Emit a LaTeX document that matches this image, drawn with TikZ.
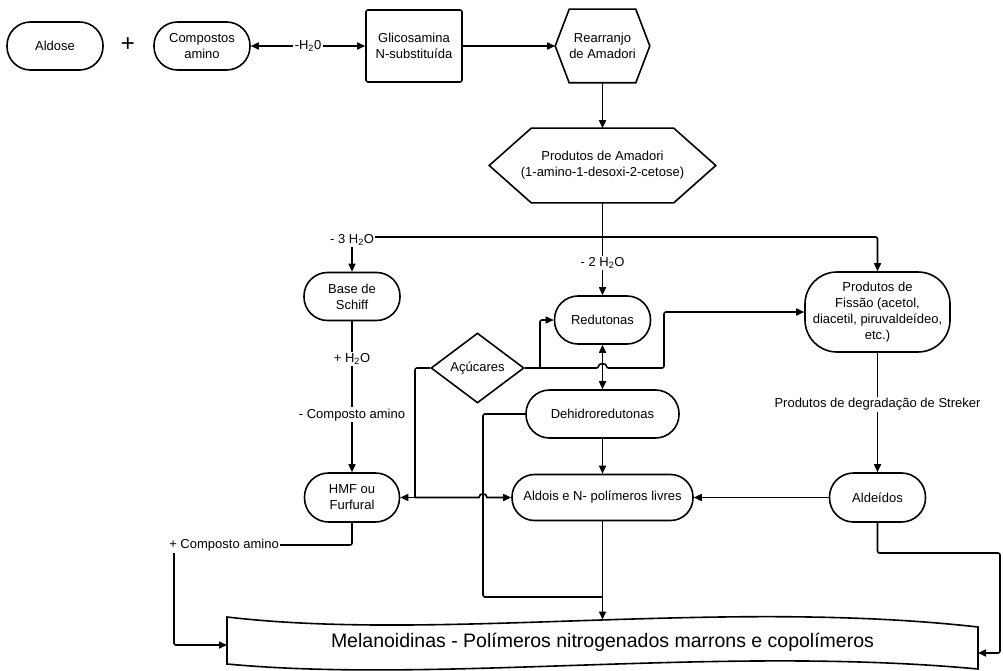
\documentclass[tikz,border=0pt]{standalone}
\usepackage{fontspec}
\setmainfont{Liberation Sans}
\usetikzlibrary{arrows.meta,shapes.geometric}
\begin{document}
\begin{tikzpicture}[x=1pt,y=-1pt,line width=1.6pt,
  >={Triangle[length=8pt,width=7pt]},
  every node/.style={font=\fontsize{13}{16}\selectfont, align=center, inner sep=1pt},
  stad/.style={draw, rounded corners=23.5pt, minimum width=96pt, minimum height=48pt},
  lbl/.style={fill=white, inner sep=1.5pt},
  conn/.style={rounded corners=2pt}
]
\useasboundingbox[fill=white] (0,0) rectangle (1003,671);

% nodes
\node[stad] (aldose) at (55,46) {Aldose};
\node[font=\fontsize{24}{24}\selectfont] (plus) at (128,45) {+};
\node[stad] (comp) at (202,46) {Compostos\\amino};
\node[draw, rounded corners=2pt, minimum width=96pt, minimum height=72pt] (glic) at (414,46) {Glicosamina\\N-substituída};
\node[minimum width=93pt, minimum height=72pt] (rear) at (602.5,46) {Rearranjo\\de Amadori};
\draw (rear.west) -- ([xshift=14pt]rear.north west) -- ([xshift=-14pt]rear.north east) -- (rear.east) -- ([xshift=-14pt]rear.south east) -- ([xshift=14pt]rear.south west) -- cycle;
\node[minimum width=225pt, minimum height=73pt] (pam) at (602.5,165.5) {Produtos de Amadori\\(1-amino-1-desoxi-2-cetose)};
\draw (pam.west) -- ([xshift=42pt]pam.north west) -- ([xshift=-42pt]pam.north east) -- (pam.east) -- ([xshift=-42pt]pam.south east) -- ([xshift=42pt]pam.south west) -- cycle;

\node[stad] (schiff) at (352,296.5) {Base de\\Schiff};
\node[stad] (red) at (602.5,320) {Redutonas};
\node[stad, minimum width=153pt] (dehi) at (602.5,414) {Dehidroredutonas};
\node[draw, diamond, aspect=1.33, minimum width=93pt, minimum height=70pt] (acu) at (477.5,368) {Açúcares};
\node[draw, rounded corners=32pt, minimum width=145pt, minimum height=80pt] (fis) at (877.5,312) {Produtos de\\Fissão (acetol,\\diacetil, piruvaldeídeo,\\etc.)};
\node[stad, minimum width=95pt, minimum height=49pt, rounded corners=24pt] (hmf) at (352,497.5) {HMF ou\\Furfural};
\node[stad, minimum width=181pt, minimum height=46pt, rounded corners=22.5pt] (aldois) at (602.5,497.5) {Aldois e N- polímeros livres};
\node[stad, minimum height=49pt, rounded corners=24pt] (aldeid) at (877.5,497.5) {Aldeídos};

\draw (227,617) .. controls (440,642) and (720,598) .. (978,627) -- (978,669) .. controls (720,645) and (440,684) .. (227,664) -- cycle;
\node[font=\fontsize{19.5}{22}\selectfont] (mel) at (602.5,642) {Melanoidinas - Polímeros nitrogenados marrons e copolímeros};

% coordinates
\coordinate (j1) at (602.5,237);
\coordinate (b1) at (540,368);
\coordinate (j2) at (415,497.5);
\coordinate (j3) at (483,597);
\coordinate (j4) at (602.5,597);
\coordinate (r2) at (1000,553);
\coordinate (l1) at (174,545);
\coordinate (melL) at (227,645);
\coordinate (melR) at (978,653);
\coordinate (melT) at (602.5,619.5);

% connectors
\draw[<->] (comp.east) -- node[lbl] {-H\textsubscript{2}0} (glic.west);
\draw[->] (glic.east) -- (rear.west);
\draw[->] (rear.south) -- (pam.north);
\draw (pam.south) -- (j1);
\draw[->, conn] (j1) -| (schiff.north);
\node[lbl] (l3h) at (352,240) {- 3 H\textsubscript{2}O};
\draw[->, conn] (j1) -| (fis.north);
\draw[->] (j1) -- node[lbl, pos=0.45] {- 2 H\textsubscript{2}O} (red.north);
\draw[->] (schiff.south) -- node[lbl, pos=0.25] {+ H\textsubscript{2}O} node[lbl, pos=0.62] {- Composto amino} (hmf.north);
\draw[<->] (red.south) -- (dehi.north);
\draw[->, conn] (b1) |- (red.west);
\draw[->, conn] (acu.east) -- (598.5,368) .. controls (598.5,363) and (606.5,363) .. (606.5,368) -- (664,368) |- (fis.west);
\draw[conn] (acu.west) -| (j2);
\draw[->] (j2) -- (hmf.east);
\draw[->] (j2) -- (479,497.5) .. controls (479,492.5) and (487,492.5) .. (487,497.5) -- (aldois.west);
\draw[conn] (dehi.west) -| (j3) -- (j4);
\draw[->] (dehi.south) -- (aldois.north);
\draw[->] (aldois.south) -- (melT);
\draw[->] (fis.south) -- node[lbl, pos=0.43] {Produtos de degradação de Streker} (aldeid.north);
\draw[->] (aldeid.west) -- (aldois.east);
\draw[->, conn] (aldeid.south) |- (r2) |- (melR);
\draw[->, conn] (hmf.south) |- (l1) |- (melL);
\node[lbl, anchor=west] (lca) at (167,545) {+ Composto amino};
\end{tikzpicture}
\end{document}
